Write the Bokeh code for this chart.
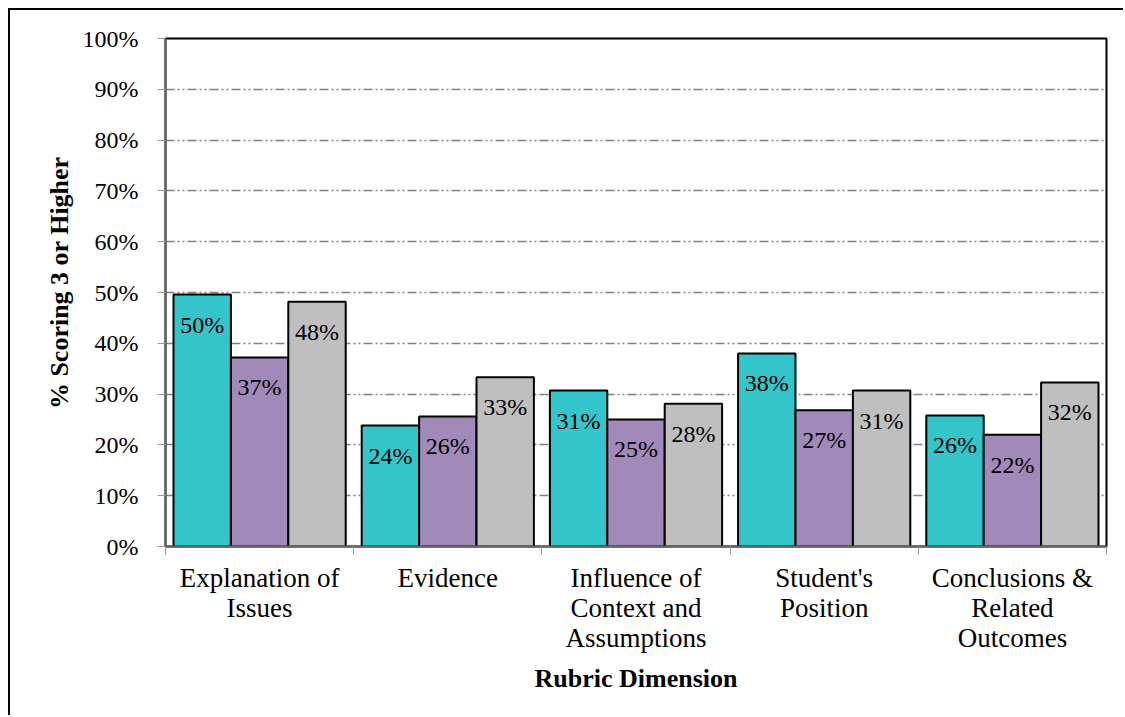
from bokeh.plotting import figure
from bokeh.models import FixedTicker, ColumnDataSource, LabelSet, Range1d
from bokeh.embed import file_html
from bokeh.resources import INLINE
import numpy as np

categories = ["Explanation of\nIssues", "Evidence", "Influence of\nContext and\nAssumptions",
              "Student's\nPosition", "Conclusions &\nRelated\nOutcomes"]
series_a = [49.6, 23.8, 30.7, 38.0, 25.8]
series_b = [37.2, 25.6, 25.0, 26.8, 22.0]
series_c = [48.2, 33.3, 28.1, 30.7, 32.3]
labels_a = ["50%", "24%", "31%", "38%", "26%"]
labels_b = ["37%", "26%", "25%", "27%", "22%"]
labels_c = ["48%", "33%", "28%", "31%", "32%"]
y_ticks = [0, 10, 20, 30, 40, 50, 60, 70, 80, 90, 100]

colors = ["#33C5C9", "#A189B9", "#BFBFBF"]
FONT = "Liberation Serif"

p = figure(width=1115, height=707, output_backend="svg", toolbar_location=None,
           x_range=Range1d(0, 5), y_range=Range1d(0, 100),
           min_border_left=155, min_border_right=19, min_border_top=28, min_border_bottom=171)
p.styles = {"margin-left": "8px", "margin-top": "8px",
            "border-left": "2px solid #000", "border-top": "2px solid #000"}
p.background_fill_color = "white"
p.border_fill_color = "white"
p.outline_line_color = "black"
p.outline_line_width = 2

bw = 0.305
centers = np.arange(5) + 0.5
for i, (vals, labs) in enumerate([(series_a, labels_a), (series_b, labels_b), (series_c, labels_c)]):
    xs = centers + (i - 1) * bw
    src = ColumnDataSource(dict(x=xs, top=vals, lab=labs, ly=np.array(vals) - 5.9))
    p.vbar(x="x", top="top", width=bw, bottom=0, source=src, fill_color=colors[i],
           line_color="black", line_width=2)
    p.add_layout(LabelSet(x="x", y="ly", text="lab", source=src, text_align="center",
                          text_baseline="middle", text_font=FONT, text_font_size="24px",
                          text_color="black"))

# grid
p.xgrid.visible = False
p.ygrid.ticker = FixedTicker(ticks=y_ticks[1:-1])
p.ygrid.grid_line_color = "#808080"
p.ygrid.grid_line_dash = "9 3 2 3 2 3"
p.ygrid.grid_line_width = 1.3

# y axis
p.yaxis.ticker = FixedTicker(ticks=y_ticks)
p.yaxis.major_label_overrides = {t: f"{t}%" for t in y_ticks}
p.yaxis.axis_label = "\u00a0\u00a0\u00a0% Scoring 3 or Higher"
p.yaxis.axis_label_text_font = FONT
p.yaxis.axis_label_text_font_style = "bold"
p.yaxis.axis_label_text_font_size = "26px"
p.yaxis.axis_label_text_color = "black"
p.yaxis.axis_label_standoff = 6
p.yaxis.major_label_text_font = FONT
p.yaxis.major_label_text_font_size = "24px"
p.yaxis.major_label_text_color = "black"
p.yaxis.major_label_standoff = 19
p.yaxis.axis_line_color = "#666666"
p.yaxis.axis_line_width = 2
p.yaxis.major_tick_line_color = "#999999"
p.yaxis.major_tick_out = 8
p.yaxis.major_tick_in = 0
p.yaxis.minor_tick_line_color = None

# x axis
p.xaxis.ticker = FixedTicker(ticks=list(centers), minor_ticks=[0, 1, 2, 3, 4, 5])
p.xaxis.major_label_overrides = {float(c): categories[i] for i, c in enumerate(centers)}
p.xaxis.major_label_text_font = FONT
p.xaxis.major_label_text_font_size = "27px"
p.xaxis.major_label_text_line_height = 1.0
p.xaxis.major_label_text_color = "black"
p.xaxis.major_label_standoff = 8
p.xaxis.major_tick_out = 0
p.xaxis.major_tick_in = 0
p.xaxis.minor_tick_out = 8
p.xaxis.minor_tick_in = 0
p.xaxis.minor_tick_line_color = "#999999"
p.xaxis.axis_line_color = "#666666"
p.xaxis.axis_line_width = 2
p.xaxis.axis_label = "Rubric Dimension"
p.xaxis.axis_label_text_font = FONT
p.xaxis.axis_label_text_font_style = "bold"
p.xaxis.axis_label_text_font_size = "26px"
p.xaxis.axis_label_text_color = "black"
p.xaxis.axis_label_standoff = 8

open("out.html", "w").write(file_html(p, INLINE))
